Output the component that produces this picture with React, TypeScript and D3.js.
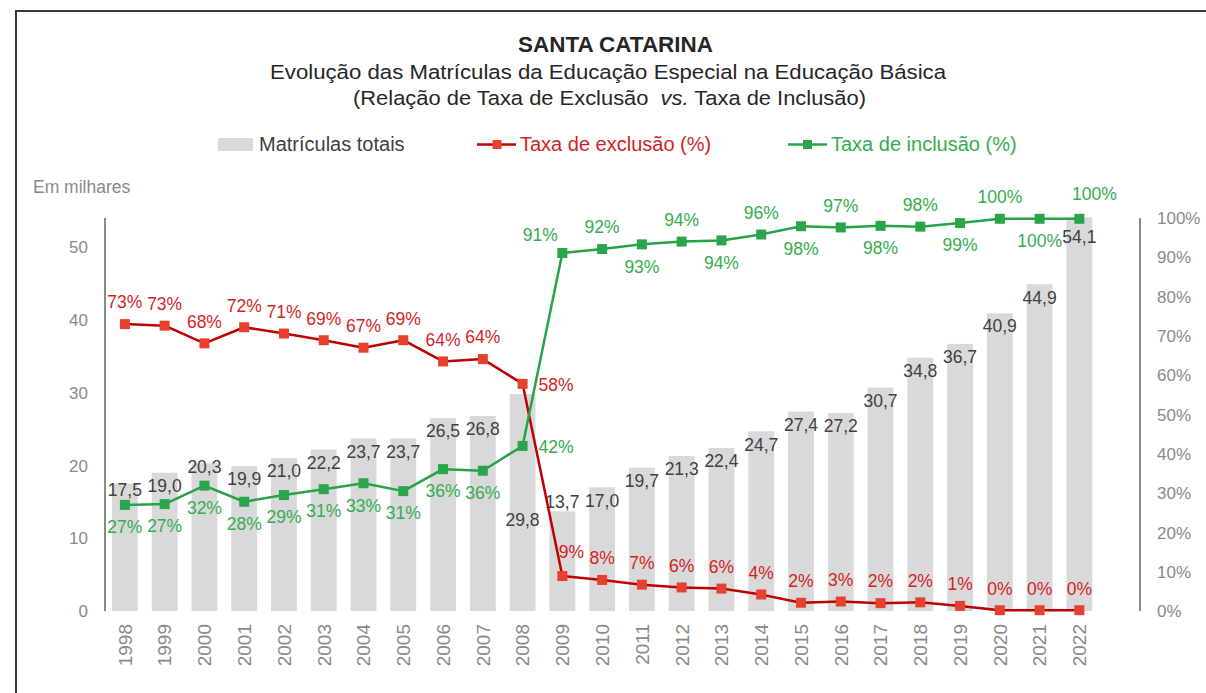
import React from 'react';
import * as d3 from 'd3';

const years = ['1998', '1999', '2000', '2001', '2002', '2003', '2004', '2005', '2006', '2007', '2008', '2009', '2010', '2011', '2012', '2013', '2014', '2015', '2016', '2017', '2018', '2019', '2020', '2021', '2022'];
const matriculas = [17.5, 19.0, 20.3, 19.9, 21.0, 22.2, 23.7, 23.7, 26.5, 26.8, 29.8, 13.7, 17.0, 19.7, 21.3, 22.4, 24.7, 27.4, 27.2, 30.7, 34.8, 36.7, 40.9, 44.9, 54.1];
const exclusao = [73.0, 72.6, 68.1, 72.2, 70.6, 68.9, 67.0, 68.9, 63.5, 64.1, 57.8, 8.9, 7.9, 6.7, 6.0, 5.7, 4.2, 2.1, 2.4, 2.0, 2.2, 1.3, 0.2, 0.2, 0.2];
const inclusao = [27.0, 27.2, 31.9, 27.8, 29.5, 31.0, 32.5, 30.5, 36.1, 35.7, 42.0, 91.1, 92.1, 93.3, 94.0, 94.3, 95.8, 97.9, 97.6, 98.0, 97.8, 98.7, 99.8, 99.8, 99.8];
const exclusaoLabels = ['73%', '73%', '68%', '72%', '71%', '69%', '67%', '69%', '64%', '64%', '58%', '9%', '8%', '7%', '6%', '6%', '4%', '2%', '3%', '2%', '2%', '1%', '0%', '0%', '0%'];
const inclusaoLabels = ['27%', '27%', '32%', '28%', '29%', '31%', '33%', '31%', '36%', '36%', '42%', '91%', '92%', '93%', '94%', '94%', '96%', '98%', '97%', '98%', '98%', '99%', '100%', '100%', '100%'];
const leftTicks = [0, 10, 20, 30, 40, 50];
const rightTicks = [0, 10, 20, 30, 40, 50, 60, 70, 80, 90, 100];

// label placement (layout only)
const exclusaoPlace = ['a', 'a', 'a', 'a', 'a', 'a', 'a', 'a', 'a', 'a', 'r', 'ar', 'a', 'a', 'a', 'a', 'a', 'a', 'a', 'a', 'a', 'a', 'a', 'a', 'a'];
const inclusaoPlace = ['b', 'b', 'b', 'b', 'b', 'b', 'b', 'b', 'b', 'b', 'r', 'al', 'a', 'b', 'a', 'b', 'a', 'b', 'a', 'b', 'a', 'b', 'a', 'b', 'ar2'];
const barLabelNudge: Record<number, number> = { 0: 6, 2: 3, 10: 126, 11: -10, 22: 12, 21: 13, 24: 19 };

const FONT = "'Liberation Sans', Arial, Helvetica, sans-serif";
const RED_LINE = '#c00000';
const RED_MARK = '#e8402f';
const RED_TEXT = '#d21f1f';
const GREEN_LINE = '#26a347';
const GREEN_MARK = '#2aa64a';
const GREEN_TEXT = '#34ad4e';
const GREY_AXIS = '#8a8a8a';
const BAR = '#d9d9d9';

function placeOffset(p: string): [number, number, string] {
  switch (p) {
    case 'a': return [0, -22, 'middle'];
    case 'b': return [0, 22, 'middle'];
    case 'r': return [16, 1, 'start'];
    case 'ar': return [9, -24, 'middle'];
    case 'al': return [-22, -18, 'middle'];
    case 'ar2': return [15, -25, 'middle'];
    default: return [0, -22, 'middle'];
  }
}

export default function App() {
  const W = 1206, H = 693;
  const x = d3.scaleBand<string>().domain(years).range([105, 105 + 25 * 39.77]).paddingInner(0.35).paddingOuter(0.175);
  const yL = d3.scaleLinear().domain([0, 54]).range([611, 218]);
  const yR = d3.scaleLinear().domain([0, 100]).range([611, 218]);
  const cx = (i: number) => (x(years[i]) as number) + x.bandwidth() / 2;

  const lineGen = (vals: number[]) => d3.line<number>().x((_, i) => cx(i)).y((v) => yR(v))(vals) as string;

  const fmt = (v: number) => v.toFixed(1).replace('.', ',');
  const ms = 10;

  return (
    <div style={{ position: 'fixed', left: 0, top: 0, width: W, height: H, background: '#fff' }}>
      <svg width={W} height={H} style={{ display: 'block', fontFamily: FONT }}>
        <rect x={0} y={0} width={W} height={H} fill="#fff" />
        {/* frame */}
        <line x1={16} y1={11} x2={W} y2={11} stroke="#3a3a3a" strokeWidth={2} />
        <line x1={16} y1={10} x2={16} y2={H} stroke="#3a3a3a" strokeWidth={2} />

        {/* titles */}
        <text x={518} y={52} fontSize={21.5} fontWeight="bold" fill="#262626" textLength={195} lengthAdjust="spacingAndGlyphs">SANTA CATARINA</text>
        <text x={270} y={79} fontSize={20.5} fill="#262626" textLength={676} lengthAdjust="spacingAndGlyphs">Evolução das Matrículas da Educação Especial na Educação Básica</text>
        <text x={353} y={105} fontSize={20.5} fill="#262626" textLength={513} lengthAdjust="spacingAndGlyphs">
          (Relação de Taxa de Exclusão <tspan fontStyle="italic">{'\u00a0vs.'}</tspan> Taxa de Inclusão)
        </text>

        {/* legend */}
        <rect x={218} y={138} width={35} height={13} fill={BAR} />
        <text x={259} y={151} fontSize={20} fill="#404040">Matrículas totais</text>
        <line x1={477} y1={144.5} x2={516} y2={144.5} stroke={RED_LINE} strokeWidth={2.5} />
        <rect x={497 - 4.5} y={144.5 - 4.5} width={9} height={9} fill={RED_MARK} />
        <text x={520} y={151} fontSize={20} fill={RED_TEXT}>Taxa de exclusão (%)</text>
        <line x1={788} y1={144.5} x2={827} y2={144.5} stroke={GREEN_LINE} strokeWidth={2.5} />
        <rect x={807.5 - 4.5} y={144.5 - 4.5} width={9} height={9} fill={GREEN_MARK} />
        <text x={831} y={151} fontSize={20} fill={GREEN_TEXT}>Taxa de inclusão (%)</text>

        <text x={33} y={193} fontSize={17.5} fill={GREY_AXIS}>Em milhares</text>

        {/* bars */}
        {matriculas.map((v, i) => (
          <rect key={'b' + i} x={x(years[i])} y={yL(v)} width={x.bandwidth()} height={yL(0) - yL(v)} fill={BAR} />
        ))}

        {/* axes */}
        <line x1={105} y1={yL(0)} x2={105} y2={218} stroke={GREY_AXIS} strokeWidth={2} />
        <line x1={1140} y1={yR(0)} x2={1140} y2={218} stroke={GREY_AXIS} strokeWidth={2} />
        {leftTicks.map((t) => (
          <text key={'lt' + t} x={88} y={yL(t)} dy="0.36em" textAnchor="end" fontSize={17} fill={GREY_AXIS}>{t}</text>
        ))}
        {rightTicks.map((t) => (
          <text key={'rt' + t} x={1157} y={yR(t)} dy="0.36em" textAnchor="start" fontSize={17} fill={GREY_AXIS}>{t + '%'}</text>
        ))}
        {years.map((yr, i) => (
          <text key={'xl' + yr} transform={`translate(${cx(i)},624) rotate(-90)`} textAnchor="end" dy="0.36em" fontSize={19} fill={GREY_AXIS}>{yr}</text>
        ))}

        {/* bar labels */}
        {matriculas.map((v, i) => (
          <text key={'bl' + i} x={cx(i)} y={yL(v) + (barLabelNudge[i] ?? 13)} dy="0.36em" textAnchor="middle" fontSize={17.5} fill="#404040">{fmt(v)}</text>
        ))}

        {/* lines */}
        <path d={lineGen(exclusao)} fill="none" stroke={RED_LINE} strokeWidth={2.5} strokeLinejoin="round" />
        <path d={lineGen(inclusao)} fill="none" stroke={GREEN_LINE} strokeWidth={2.5} strokeLinejoin="round" />
        {exclusao.map((v, i) => (
          <rect key={'rm' + i} x={cx(i) - ms / 2} y={yR(v) - ms / 2} width={ms} height={ms} fill={RED_MARK} />
        ))}
        {inclusao.map((v, i) => (
          <rect key={'gm' + i} x={cx(i) - ms / 2} y={yR(v) - ms / 2} width={ms} height={ms} fill={GREEN_MARK} />
        ))}

        {/* line labels */}
        {exclusao.map((v, i) => {
          const [dx, dy, anchor] = placeOffset(exclusaoPlace[i]);
          return (
            <text key={'rl' + i} x={cx(i) + dx} y={yR(v) + dy} dy="0.36em" textAnchor={anchor} fontSize={17.5} fill={RED_TEXT}>{exclusaoLabels[i]}</text>
          );
        })}
        {inclusao.map((v, i) => {
          const [dx, dy, anchor] = placeOffset(inclusaoPlace[i]);
          return (
            <text key={'gl' + i} x={cx(i) + dx} y={yR(v) + dy} dy="0.36em" textAnchor={anchor} fontSize={17.5} fill={GREEN_TEXT}>{inclusaoLabels[i]}</text>
          );
        })}
      </svg>
    </div>
  );
}
